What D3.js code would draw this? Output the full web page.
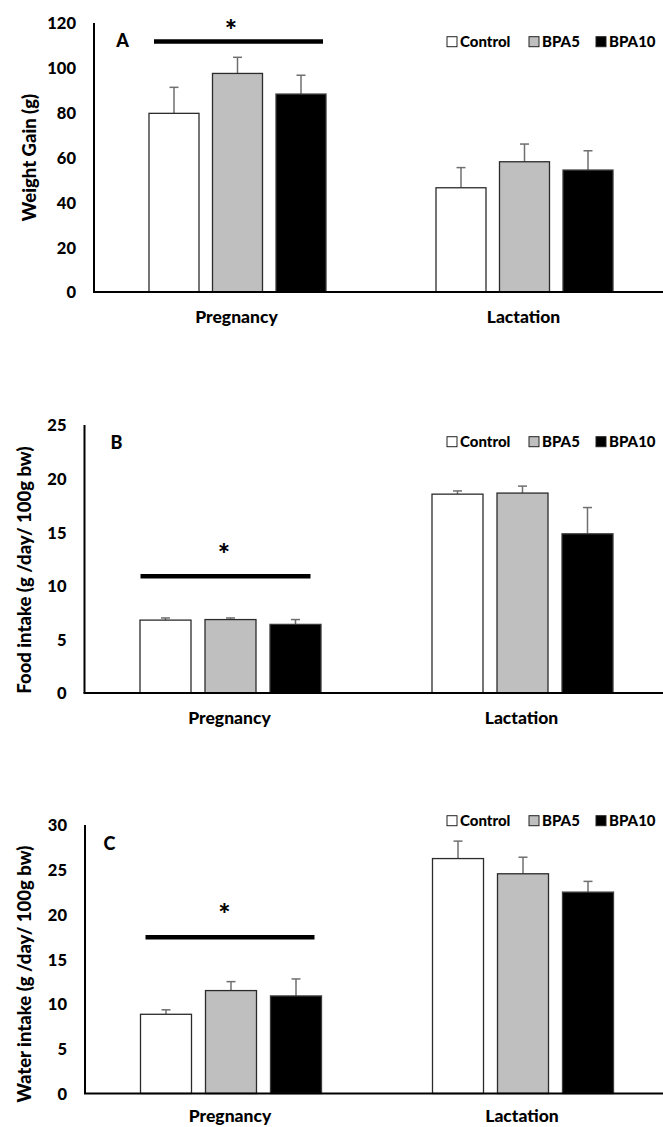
<!DOCTYPE html>
<html>
<head>
<meta charset="utf-8">
<script src="https://cdn.jsdelivr.net/npm/d3@7"></script>
<style>
  html, body { margin: 0; padding: 0; background: #fff; }
  svg { display: block; }
  text { font-family: Lato, "Open Sans", sans-serif; font-weight: 900; fill: #000; }
</style>
</head>
<body>
<svg id="chart" width="663" height="1127"></svg>
<script>
// ---------- DATA ----------
const categories = ["Pregnancy", "Lactation"];
const groups = ["Control", "BPA5", "BPA10"];
const groupColors = ["#ffffff", "#bfbfbf", "#000000"];

// Panel A – Weight Gain (g); one array per group: [Pregnancy, Lactation]
const weightGainMeans = [[79.7, 46.5], [97.5, 58.1], [88.3, 54.4]];
const weightGainErr   = [[11.6, 9.0], [7.2, 7.9], [8.4, 8.6]];
const weightGainTicks = [0, 20, 40, 60, 80, 100, 120];

// Panel B – Food intake (g/day/100g bw)
const foodIntakeMeans = [[6.8, 18.55], [6.85, 18.65], [6.4, 14.85]];
const foodIntakeErr   = [[0.2, 0.3], [0.15, 0.65], [0.45, 2.45]];
const foodIntakeTicks = [0, 5, 10, 15, 20, 25];

// Panel C – Water intake (g/day/100g bw)
const waterIntakeMeans = [[8.85, 26.25], [11.5, 24.55], [10.9, 22.5]];
const waterIntakeErr   = [[0.5, 1.95], [1.0, 1.85], [1.9, 1.2]];
const waterIntakeTicks = [0, 5, 10, 15, 20, 25, 30];

// Significance lines (value level) and labels
const panelLetters = ["A", "B", "C"];
const panelTitles = ["Weight Gain (g)", "Food intake (g /day/ 100g bw)", "Water intake (g /day/ 100g bw)"];
const sigLevels = [111.8, 10.9, 17.45];
const starLevels = [120.6, 13.7, 20.9];

// ---------- LAYOUT ----------
const panels = [
  { means: weightGainMeans, err: weightGainErr, ticks: weightGainTicks,
    left: 94, right: 668, top: 23, bottom: 292, pitch: 63.5, barW: 50,
    titleX: 29, titleY: 157.5, letterX: 122.6, letterY: 41, legendY: 41.7,
    sigFrom: -83.5, sigTo: 85.5, catDy: 25 },
  { means: foodIntakeMeans, err: foodIntakeErr, ticks: foodIntakeTicks,
    left: 84.5, right: 668.5, top: 425, bottom: 693, pitch: 65, barW: 51,
    titleX: 24, titleY: 570, letterX: 116.5, letterY: 443, legendY: 441.7,
    sigFrom: -90, sigTo: 80, catDy: 25 },
  { means: waterIntakeMeans, err: waterIntakeErr, ticks: waterIntakeTicks,
    left: 85, right: 669, top: 825, bottom: 1093.5, pitch: 65, barW: 51,
    titleX: 24, titleY: 974, letterX: 109.5, letterY: 844, legendY: 820.7,
    sigFrom: -85.5, sigTo: 83.5, catDy: 22.5 }
];

const svg = d3.select("#chart");

panels.forEach((p, pi) => {
  const g = svg.append("g");
  const yMax = p.ticks[p.ticks.length - 1];
  const y = d3.scaleLinear().domain([0, yMax]).range([p.bottom, p.top]);
  const x = d3.scaleBand().domain(categories).range([p.left, p.right]).padding(0);
  const xs = d3.scaleBand().domain(groups).range([-p.pitch * 1.5, p.pitch * 1.5]).padding(0);

  // y tick labels via axis
  const yAxis = d3.axisLeft(y).tickValues(p.ticks).tickSize(0).tickPadding(18).tickFormat(d3.format("d"));
  const ya = g.append("g").attr("transform", `translate(${p.left},0)`).call(yAxis);
  ya.select(".domain").remove();
  ya.selectAll("text").attr("font-size", 16.5).attr("font-family", "Lato").attr("font-weight", 900).attr("fill", "#000").attr("dy", "0.36em");

  // bars
  groups.forEach((grp, gi) => {
    categories.forEach((cat, ci) => {
      const v = p.means[gi][ci];
      const e = p.err[gi][ci];
      const cx = x(cat) + x.bandwidth() / 2 + xs(grp) + xs.bandwidth() / 2;
      g.append("line")
        .attr("x1", cx).attr("x2", cx)
        .attr("y1", y(v)).attr("y2", y(v + e))
        .attr("stroke", "#6f6f6f").attr("stroke-width", 1.5);
      g.append("line")
        .attr("x1", cx - 4.5).attr("x2", cx + 4.5)
        .attr("y1", y(v + e)).attr("y2", y(v + e))
        .attr("stroke", "#6f6f6f").attr("stroke-width", 1.5);
      g.append("rect")
        .attr("x", cx - p.barW / 2)
        .attr("y", y(v))
        .attr("width", p.barW)
        .attr("height", y(0) - y(v))
        .attr("fill", groupColors[gi])
        .attr("stroke", gi === 2 ? "#3a3a3a" : "#2b2b2b")
        .attr("stroke-width", 1.3);
    });
  });

  // axes lines
  g.append("line").attr("x1", p.left).attr("x2", p.left).attr("y1", p.top).attr("y2", p.bottom)
    .attr("stroke", "#000").attr("stroke-width", 2);
  g.append("line").attr("x1", p.left - 1).attr("x2", p.right).attr("y1", p.bottom).attr("y2", p.bottom)
    .attr("stroke", "#000").attr("stroke-width", 2.2);

  // category labels
  categories.forEach(cat => {
    g.append("text")
      .attr("x", x(cat) + x.bandwidth() / 2 - 1)
      .attr("y", p.bottom + p.catDy)
      .attr("dy", "0.36em")
      .attr("text-anchor", "middle")
      .attr("font-size", 17.5)
      .text(cat);
  });

  // y title
  g.append("text")
    .attr("transform", `translate(${p.titleX},${p.titleY}) rotate(-90)`)
    .attr("text-anchor", "middle")
    .attr("dy", "0.36em")
    .attr("font-size", 18.5)
    .text(panelTitles[pi]);

  // panel letter
  g.append("text")
    .attr("x", p.letterX).attr("y", p.letterY)
    .attr("dy", "0.36em")
    .attr("text-anchor", "middle")
    .attr("font-size", 18)
    .text(panelLetters[pi]);

  // significance line + star
  const c0 = x(categories[0]) + x.bandwidth() / 2;
  g.append("line")
    .attr("x1", c0 + p.sigFrom).attr("x2", c0 + p.sigTo)
    .attr("y1", y(sigLevels[pi])).attr("y2", y(sigLevels[pi]))
    .attr("stroke", "#000").attr("stroke-width", 4.5);
  g.append("text")
    .attr("x", c0 - 6.5)
    .attr("y", y(starLevels[pi]) + 18)
    .attr("text-anchor", "middle")
    .attr("font-size", 29)
    .attr("font-weight", 700)
    .text("*");

  // legend
  const legendX = [447, 529, 596];
  groups.forEach((grp, gi) => {
    g.append("rect")
      .attr("x", legendX[gi]).attr("y", p.legendY - 5)
      .attr("width", 10).attr("height", 10)
      .attr("fill", groupColors[gi])
      .attr("stroke", "#222").attr("stroke-width", 1);
    g.append("text")
      .attr("x", legendX[gi] + 13).attr("y", p.legendY)
      .attr("dy", "0.36em")
      .attr("font-size", 15)
      .text(grp);
  });
});
</script>
</body>
</html>
